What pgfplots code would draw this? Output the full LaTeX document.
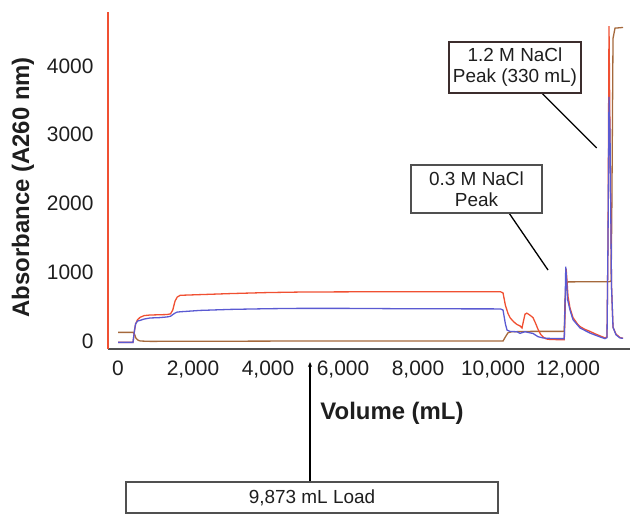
\documentclass[border=0pt]{standalone}
\usepackage{pgfplots}
\pgfplotsset{compat=1.18}
\usetikzlibrary{arrows.meta}
\usepackage{fontspec}
\setmainfont{Liberation Sans}
\definecolor{cred}{RGB}{240,80,50}
\definecolor{cblue}{RGB}{90,90,210}
\definecolor{cbrown}{RGB}{165,105,60}
\definecolor{txt}{RGB}{30,30,30}
\definecolor{axgray}{RGB}{80,80,80}
\definecolor{boxbrown}{RGB}{60,45,45}
\begin{document}
\begin{tikzpicture}
\path[use as bounding box] (0bp,0bp) rectangle (631bp,515bp);
\begin{axis}[
  at={(108bp,166bp)}, anchor=south west,
  scale only axis, width=522bp, height=337bp,
  xmin=-267, xmax=13653, ymin=-116, ymax=4785,
  axis x line*=bottom, axis y line*=left,
  x axis line style={draw=axgray, line width=1.5bp, -},
  y axis line style={draw=cred, line width=1.2bp, -},
  major tick length=0pt,
  scaled ticks=false,
  xtick={0,2000,...,12000}, ytick={0,1000,...,4000},
  /pgf/number format/assume math mode=true,
  ticklabel style={font=\fontsize{21}{25}\selectfont, text=txt},
  xticklabel style={/pgf/number format/1000 sep={,}, yshift=-8bp},
  yticklabel style={/pgf/number format/1000 sep={}, xshift=-11bp},
  xlabel={Volume (mL)},
  xlabel style={font=\bfseries\fontsize{24}{28}\selectfont, text=txt, at={(axis description cs:0.544,-0.19)}, anchor=center},
  ylabel={Absorbance (A260 nm)},
  ylabel style={font=\bfseries\fontsize{24}{28}\selectfont, text=txt, at={(axis description cs:-0.163,0.48)}, anchor=center, rotate=0},
]
% brown series
\addplot[cbrown, line width=1.3bp] coordinates {
(0,126) (400,126) (440,100) (480,40) (540,10) (600,0) (853,-5) (5000,0) (10200,0)
(10267,0) (10330,60) (10400,120) (10500,135) (11000,140) (11500,140) (11900,140)
(11920,600) (11960,840) (12000,860) (13093,863) (13150,870) (13170,2000) (13200,4400)
(13253,4550) (13467,4560)};
% red series
\addplot[cred, line width=1.3bp] coordinates {
(0,-20) (400,-20) (440,150) (470,250) (520,310) (590,345) (700,370) (850,378)
(1100,382) (1300,385) (1400,395) (1460,450) (1520,580) (1580,640) (1660,665)
(2200,675) (3000,690) (4000,705) (4850,712) (6000,715) (7500,716) (8500,716)
(9500,716) (10200,716) (10267,700) (10330,520) (10400,400) (10460,335) (10550,280)
(10640,240) (10720,220) (10773,190) (10800,260) (10853,390) (10900,405) (10933,395)
(11000,370) (11067,340) (11133,260) (11200,170) (11267,100) (11333,60) (11400,35)
(11467,25) (11700,20) (11900,20) (11920,400) (11950,1050) (11970,900) (12000,650)
(12053,480) (12133,340) (12250,250) (12320,210) (12450,170) (12587,140) (12700,110)
(12853,75) (12987,45) (13040,60) (13067,1500) (13093,4580) (13120,3000) (13160,800)
(13200,200) (13280,100) (13387,50) (13467,40)};
% blue series
\addplot[cblue, line width=1.3bp] coordinates {
(0,-20) (400,-20) (440,160) (470,250) (520,290) (587,300) (700,320) (853,335)
(1100,340) (1307,350) (1400,360) (1500,400) (1573,420) (1653,425) (2187,445)
(3000,460) (4000,470) (4853,475) (6000,475) (7500,470) (9000,468) (10200,467)
(10267,450) (10330,250) (10373,160) (10450,140) (10640,135) (10720,112) (10853,135)
(10933,125) (11067,110) (11200,63) (11333,45) (11467,39) (11700,35) (11900,35)
(11920,500) (11940,1080) (11960,900) (11990,600) (12053,450) (12133,310) (12320,190)
(12587,115) (12853,60) (12987,35) (13040,50) (13067,1500) (13093,3550) (13120,3000)
(13160,800) (13200,200) (13280,90) (13387,44) (13467,40)};
\end{axis}
% annotations
\draw[black, line width=1.3bp] (541.7bp,422bp) -- (596.7bp,367bp);
\node[draw=boxbrown, line width=1.3bp, fill=white, minimum width=132bp, minimum height=51bp, inner sep=0pt, align=center, text=txt, font=\fontsize{19}{21}\selectfont] at (515bp,447.5bp) {1.2 M NaCl\\Peak (330 mL)};
\draw[black, line width=1.3bp] (509bp,302bp) -- (548bp,245bp);
\node[draw=axgray, line width=1.1bp, fill=white, minimum width=131bp, minimum height=48bp, inner sep=0pt, align=center, text=txt, font=\fontsize{19}{21}\selectfont] at (476.5bp,326bp) {0.3 M NaCl\\Peak};
\draw[black, line width=1.3bp, -{Stealth[length=5bp,width=4bp]}] (310bp,33bp) -- (310bp,153bp);
\node[draw=axgray, line width=1.1bp, fill=white, minimum width=372bp, minimum height=31bp, inner sep=0pt, align=center, text=txt, font=\fontsize{19}{21}\selectfont] at (312bp,17.5bp) {9,873 mL Load};
\end{tikzpicture}
\end{document}
